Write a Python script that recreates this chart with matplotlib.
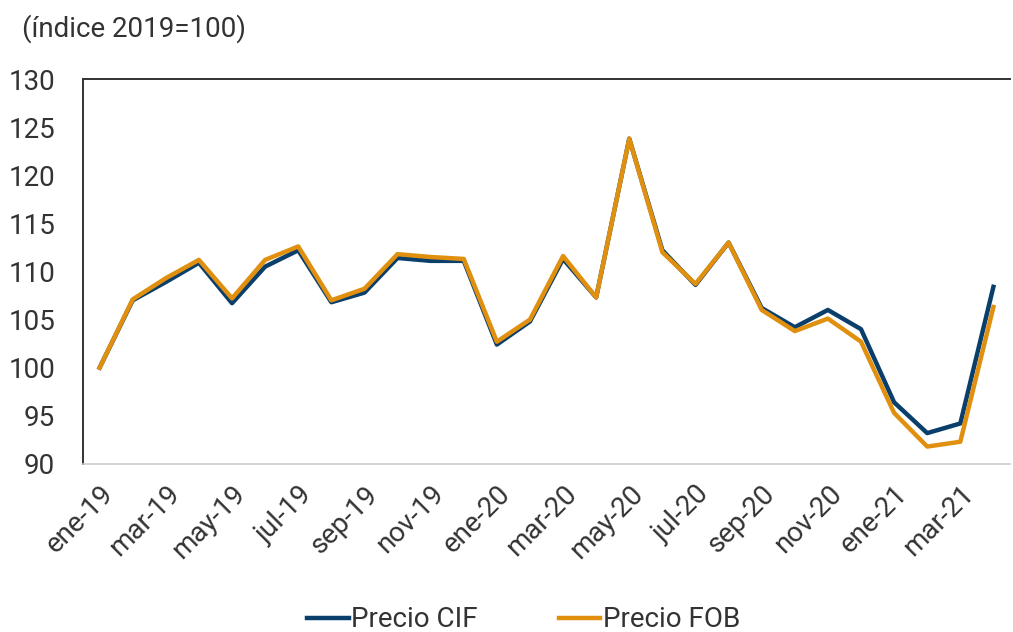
import numpy as np
import matplotlib.pyplot as plt

plt.rcParams['font.family'] = ['Roboto', 'DejaVu Sans']

meses = ["ene-19", "feb-19", "mar-19", "abr-19", "may-19", "jun-19", "jul-19",
         "ago-19", "sep-19", "oct-19", "nov-19", "dic-19",
         "ene-20", "feb-20", "mar-20", "abr-20", "may-20", "jun-20", "jul-20",
         "ago-20", "sep-20", "oct-20", "nov-20", "dic-20",
         "ene-21", "feb-21", "mar-21", "abr-21"]

precio_cif = [100.0, 107.0, 108.9, 110.9, 106.7, 110.5, 112.2, 106.8, 107.8, 111.4, 111.1, 111.1,
              102.4, 104.8, 111.3, 107.3, 123.8, 112.2, 108.6, 113.0, 106.2, 104.2, 106.0, 104.0,
              96.4, 93.2, 94.2, 108.4]
precio_fob = [100.0, 107.1, 109.3, 111.2, 107.2, 111.2, 112.6, 107.0, 108.2, 111.8, 111.5, 111.3,
              102.7, 105.0, 111.6, 107.3, 123.8, 112.0, 108.7, 113.0, 106.0, 103.8, 105.1, 102.7,
              95.3, 91.8, 92.3, 106.3]

x = np.arange(len(meses))

fig = plt.figure(figsize=(10.13, 6.32), dpi=100)
ax = fig.add_axes([0.082, 0.266, 0.915, 0.609])

ax.plot(x, precio_cif, color='#0B3F6B', lw=3.2, label='Precio CIF', solid_joinstyle='round')
ax.plot(x, precio_fob, color='#E0900E', lw=3.2, label='Precio FOB', solid_joinstyle='round')

ax.set_xlim(-0.5, len(meses) - 0.5)
ax.set_ylim(90, 130)
ax.set_yticks(range(90, 131, 5))
ax.set_xticks(x[::2])
ax.set_xticklabels(meses[::2], rotation=45, ha='right', rotation_mode='anchor')

ax.tick_params(axis='both', length=0, labelsize=20, colors='#333333')
ax.tick_params(axis='y', pad=20)
ax.tick_params(axis='x', pad=12)

for s in ['left', 'top']:
    ax.spines[s].set_color('#333333')
    ax.spines[s].set_linewidth(1.4)
ax.spines['bottom'].set_color('#CCCCCC')
ax.spines['bottom'].set_linewidth(1.2)
ax.spines['right'].set_visible(False)

fig.text(0.022, 0.955, '(índice 2019=100)', fontsize=20, color='#333333', va='center')

fig.legend(loc='center', bbox_to_anchor=(0.517, 0.019), ncol=2, frameon=False,
           fontsize=20, handlelength=1.5, handletextpad=0.1, columnspacing=2.9,
           labelcolor='#333333')

fig.savefig('out.png', dpi=100)
